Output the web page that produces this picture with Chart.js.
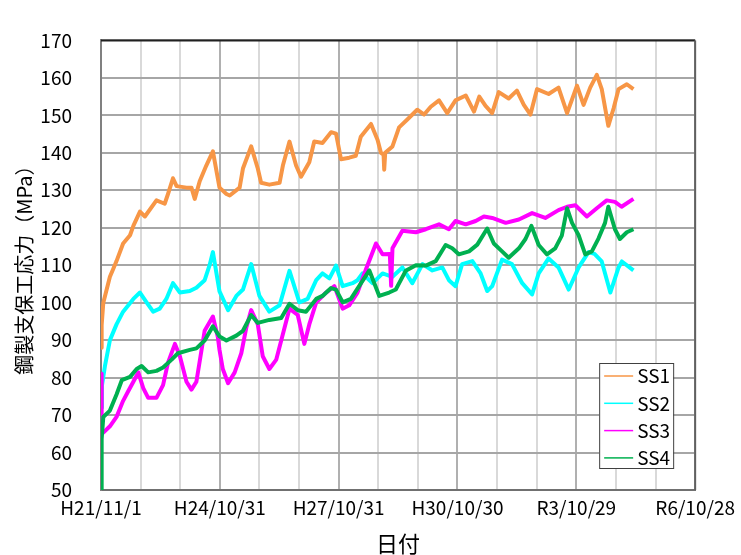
<!DOCTYPE html>
<html>
<head>
<meta charset="utf-8">
<script src="https://cdn.jsdelivr.net/npm/chart.js@4.4.1/dist/chart.umd.min.js"></script>
<style>
  body { margin: 0; background: #fff; }
  canvas { display: block; }
</style>
</head>
<body>
<canvas id="stressChart" width="741" height="555"></canvas>
<script>
// x values are months counted from H21/11/1
const tickLabels = ["H21/11/1", "H24/10/31", "H27/10/31", "H30/10/30", "R3/10/29", "R6/10/28"];
const seriesNames = ["SS1", "SS2", "SS3", "SS4"];
const seriesColors = ["#f79646", "#00ffff", "#ff00ff", "#00b050"];

const ss1Months = [0, 0.2, 0.7, 2.7, 3.7, 4.7, 6.7, 8.8, 9.8, 11.8, 13.3, 16.8, 19.3, 20.3, 21.8, 22.9, 25.9, 27.4, 28.4, 29.9,
  31.9, 33.9, 35.9, 38, 39, 42, 43, 45.5, 47.5, 48.5, 51, 54.1, 55.1, 57.1, 59.1, 60.6, 63.1, 64.6, 67.1, 69.7,
  71.2, 72.7, 75.2, 77.2, 78.7, 81.8, 83.8, 84.8, 85.6, 85.8, 86.1, 88.3, 90.3, 92.8, 95.8, 97.9, 99.9, 102.4, 104.9, 107.4,
  110.5, 113, 114.6, 116.5, 118.5, 120.5, 123.5, 126, 128.1, 130.1, 132.1, 135.6, 138.6, 141.2, 144.2, 146.2, 148.2, 150.2, 151.7, 153.7,
  155.3, 156.8, 159.3, 161.3];
const ss1Values = [88, 94, 100, 106.9, 109, 111.1, 115.8, 118, 120.5, 124.3, 123, 127.3, 126.4, 129, 133.2, 131.1, 130.7, 130.7, 127.7, 132.4,
  136.6, 140.4, 130.7, 129, 128.6, 130.7, 135.8, 141.7, 135.8, 132, 131.5, 132, 136.6, 143, 136.6, 133.6, 137.5, 143, 142.6, 145.5,
  145.1, 138.3, 138.7, 139.2, 144.3, 147.7, 143.4, 140, 139.5, 135.5, 140, 141.7, 146.8, 148.9, 151.5, 150.2, 152.3, 154, 150.6, 154,
  155.3, 151, 155, 152.5, 150.6, 156.2, 154.5, 156.6, 152.8, 150.2, 157, 155.7, 157.4, 150.6, 157.9, 152.8, 157.4, 160.8, 157, 147.2,
  151.9, 157, 158.3, 157];

const ss2Months = [0, 0.3, 1.2, 2.7, 4.7, 6.7, 9.8, 11.8, 13.8, 15.8, 17.8, 19.8, 21.8, 23.9, 26.9, 28.9, 31.4, 32.9, 33.9, 35.9,
  38.5, 41, 43, 45.5, 48, 51, 54.1, 57.1, 60.1, 62.6, 65.2, 67.1, 69.2, 71.2, 73.2, 76.2, 77.7, 79.2, 82.3, 85.3,
  88.3, 91.3, 94.3, 97.4, 100.4, 103.4, 105.4, 107.4, 109.4, 112.5, 115, 117, 118.5, 121.5, 124.5, 127.6, 130.6, 132.6, 135.6, 138.6,
  141.7, 144.7, 147.7, 149.5, 151.7, 154.3, 156.8, 157.8, 161.3];
const ss2Values = [72, 78, 83.1, 90, 94.2, 97.6, 101, 102.7, 100.1, 97.6, 98.4, 101, 105.2, 102.7, 103.1, 104, 106, 110, 113.5, 103,
  98, 101.8, 103.5, 110.3, 101.8, 97.6, 99.3, 108.5, 100.1, 101, 106, 107.8, 106.5, 109.9, 104.4, 105.2, 106, 107.8, 105.2, 107.8,
  106.9, 109.4, 105.2, 110.3, 108.6, 109.4, 106, 104.4, 110.3, 111.1, 107.8, 103.1, 104.4, 111.5, 110.3, 105.2, 102.2, 107.8, 111.8, 109.4,
  103.5, 109.4, 113.5, 113, 111, 102.7, 109.4, 111, 108.6];

const ss3Months = [0, 0.2, 0.7, 2.7, 4.7, 6.7, 8.2, 9.8, 11.3, 12.8, 14.3, 16.8, 18.8, 20.3, 22.4, 23.9, 25.9, 27.4, 28.9, 31.4,
  33.9, 35.4, 35.9, 36.9, 38.5, 40.5, 42.5, 44, 45.5, 47.5, 49, 51, 53.1, 54.6, 57.1, 59.6, 61.6, 63.1, 65.2, 68.2,
  70.7, 73.2, 75.2, 77.7, 80.3, 83.3, 85.3, 87.5, 87.9, 88.3, 91.3, 95.4, 98.4, 102.4, 105.4, 107.4, 110.5, 113.5, 116, 118.5,
  122.6, 126.6, 130.6, 134.6, 138.6, 141.2, 143.7, 147.2, 150.2, 153.2, 155.7, 157.7, 161.3];
const ss3Values = [81, 66, 65.3, 67, 69.5, 73.8, 76.3, 78.9, 81.4, 77.2, 74.6, 74.6, 78, 84, 89, 85.7, 78.9, 76.8, 78.9, 92.5,
  96.3, 90.8, 87.4, 82.3, 78.5, 81.4, 86.5, 93.3, 98, 94.2, 85.7, 82.3, 84.8, 89.9, 98.4, 96.7, 89, 94.2, 100.1, 102.7,
  104.4, 98.4, 99.3, 102.7, 109, 115.8, 112.9, 113, 104.5, 114.5, 119.2, 118.8, 119.6, 120.9, 119.6, 121.8, 120.9, 121.8, 123, 122.6,
  121.3, 122.2, 123.9, 122.6, 124.7, 125.6, 126, 123, 125.2, 127.3, 126.9, 125.6, 127.7];

const ss4Months = [0, 0.2, 0.7, 2.7, 4.7, 6.3, 8.8, 10.8, 12.3, 14.3, 16.8, 18.8, 21.4, 23.3, 26.9, 28.9, 31.4, 33.9, 35.9, 38,
  41, 43, 45.5, 47.5, 51, 54.6, 57.1, 59.6, 62.1, 65.2, 67.1, 69.7, 71.2, 73.2, 75.7, 78.2, 81.3, 84.3, 87.3, 89.3,
  92.3, 95.4, 98.4, 101.4, 104.4, 106.4, 108.4, 111.5, 114, 117, 119, 121.5, 123.5, 126.6, 128.6, 130.4, 132.6, 135.1, 137.6, 139.6,
  141.2, 142.7, 144.7, 146.7, 148.7, 150.7, 152.7, 153.7, 155.7, 157.2, 159.3, 161.3];
const ss4Values = [50, 63.6, 69.5, 71.2, 75.5, 79.3, 80.2, 82.3, 83.1, 81.4, 81.8, 82.7, 84.8, 86.5, 87.4, 87.8, 89.9, 93.7, 91, 89.9,
  91.2, 92.5, 96.7, 94.6, 95.4, 95.9, 99.7, 98, 97.6, 101, 101.8, 103.9, 103.5, 100.1, 101, 104.4, 108.6, 101.8, 102.7, 103.5,
  108.5, 110, 109.9, 111.1, 115.4, 114.5, 112.9, 113.7, 115.5, 119.8, 115.8, 113.7, 112, 114.5, 117, 120.5, 115.4, 112.9, 114.5, 117.9,
  125.2, 121.3, 118, 112.9, 113.7, 117.1, 121.3, 125.6, 119.6, 117, 118.8, 119.6];

const allMonths = [ss1Months, ss2Months, ss3Months, ss4Months];
const allValues = [ss1Values, ss2Values, ss3Values, ss4Values];

const fontFamily = "'Noto Sans CJK JP', sans-serif";

function toPoints(months, values) {
  return months.map((m, i) => ({ x: m, y: values[i] }));
}

function makeDataset(name, i) {
  return {
    label: name,
    data: toPoints(allMonths[i], allValues[i]),
    borderColor: seriesColors[i],
    borderWidth: 4,
    borderJoinStyle: 'round',
    pointRadius: 0,
    tension: 0,
    fill: false,
    order: 4 - i
  };
}

function xGridColor(ctx) {
  if (ctx.tick && ctx.tick.value % 36 === 0) return '#b0b0b0';
  return '#d9d9d9';
}

// legend box inside the plot, bottom right, plus the top/right frame
const frameAndLegend = {
  id: 'frameAndLegend',
  afterDraw(chart) {
    const ctx = chart.ctx;
    const area = chart.chartArea;
    ctx.save();
    ctx.lineWidth = 2;
    ctx.strokeStyle = '#202020';
    ctx.beginPath();
    ctx.moveTo(area.left, area.top);
    ctx.lineTo(area.right, area.top);
    ctx.stroke();
    ctx.strokeStyle = '#606060';
    ctx.beginPath();
    ctx.moveTo(area.right, area.top);
    ctx.lineTo(area.right, area.bottom);
    ctx.stroke();

    const bx = area.right - 96, by = area.bottom - 127, bw = 74, bh = 105;
    ctx.fillStyle = '#fff';
    ctx.fillRect(bx, by, bw, bh);
    ctx.lineWidth = 1;
    ctx.strokeStyle = '#404040';
    ctx.strokeRect(bx + 0.5, by + 0.5, bw, bh);

    ctx.font = '19px ' + fontFamily;
    ctx.textBaseline = 'middle';
    ctx.textAlign = 'left';
    seriesNames.forEach((name, i) => {
      const y = by + 13 + i * 27.3;
      ctx.strokeStyle = seriesColors[i];
      ctx.lineWidth = 1.5;
      ctx.beginPath();
      ctx.moveTo(bx + 5, y);
      ctx.lineTo(bx + 34, y);
      ctx.stroke();
      ctx.fillStyle = '#000';
      ctx.fillText(name, bx + 38, y);
    });
    ctx.restore();
  }
};

new Chart(document.getElementById('stressChart'), {
  type: 'line',
  data: { datasets: seriesNames.map(makeDataset) },
  options: {
    responsive: false,
    animation: false,
    layout: { padding: { left: 0, right: 44, top: 19, bottom: 0 } },
    plugins: { legend: { display: false }, tooltip: { enabled: false } },
    scales: {
      x: {
        type: 'linear',
        min: 0,
        max: 180,
        afterFit: s => { s.height = 65; },
        ticks: {
          stepSize: 12,
          autoSkip: false,
          maxRotation: 0,
          padding: 6,
          color: '#000',
          font: { family: fontFamily, size: 19 },
          callback: v => (v % 36 === 0 ? tickLabels[v / 36] : '')
        },
        grid: { color: xGridColor, lineWidth: 2, drawTicks: false },
        border: { color: '#707070', width: 2 },
        title: {
          display: true,
          text: '日付',
          color: '#000',
          font: { family: fontFamily, size: 22, lineHeight: 1 },
          padding: 0
        }
      },
      y: {
        min: 50,
        max: 170,
        afterFit: s => { s.width = 101; },
        ticks: {
          stepSize: 10,
          padding: 29,
          color: '#000',
          font: { family: fontFamily, size: 19 }
        },
        grid: { color: '#a6a6a6', lineWidth: 2, drawTicks: false },
        border: { color: '#808080', width: 2 },
        title: {
          display: true,
          text: '鋼製支保工応力（MPa）',
          color: '#000',
          font: { family: fontFamily, size: 20, lineHeight: 1 },
          padding: { top: 14, bottom: 0 }
        }
      }
    }
  },
  plugins: [frameAndLegend]
});
</script>
</body>
</html>
